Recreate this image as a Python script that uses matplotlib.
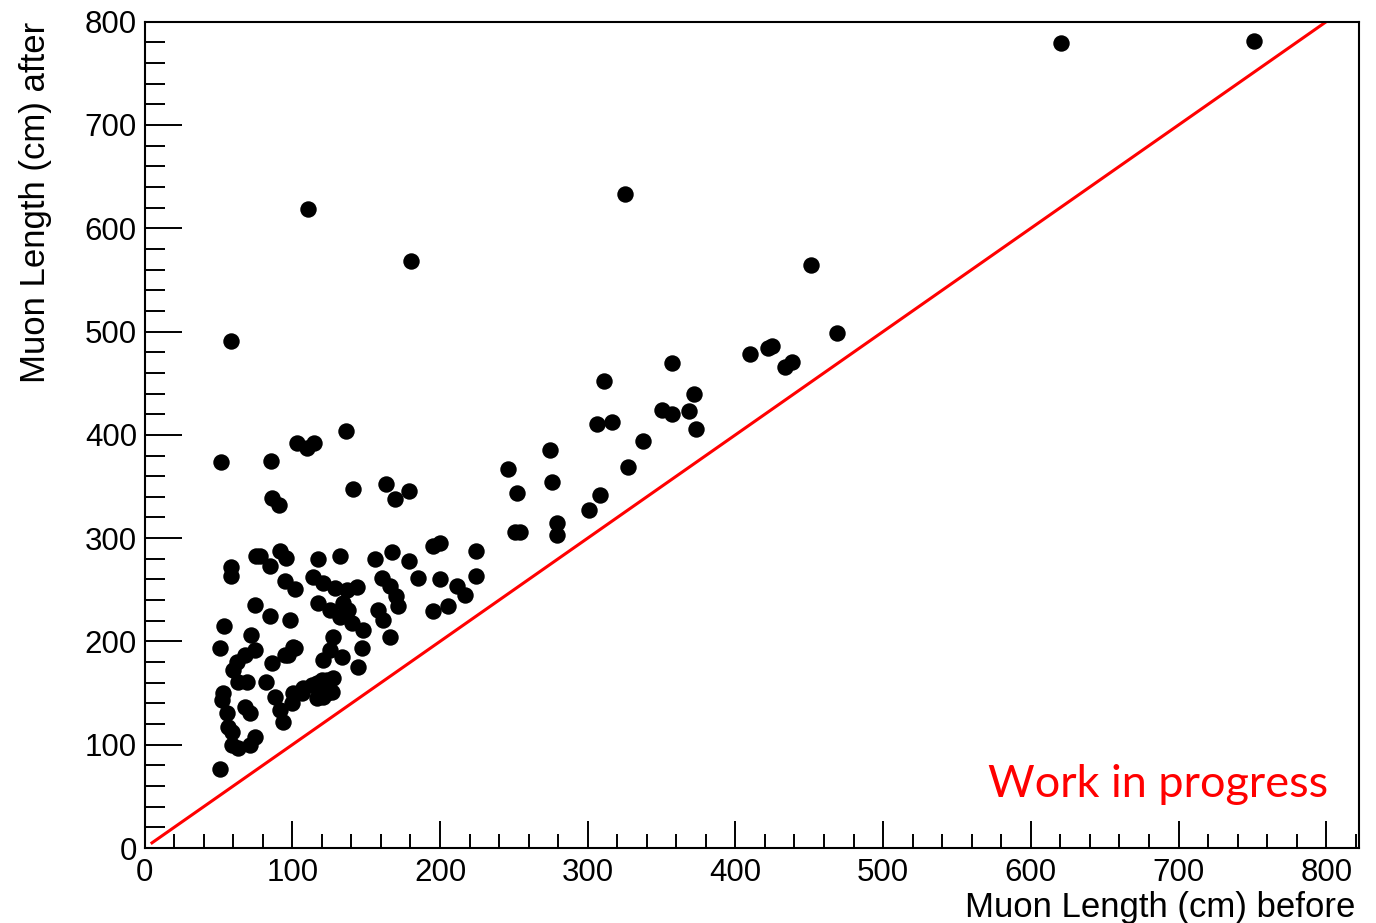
import matplotlib
matplotlib.use("Agg")
import matplotlib.pyplot as plt
from matplotlib.ticker import MultipleLocator

# muon length before / after (cm)
before = [
    # sparse upper part
    620.5, 751.4, 325.2, 110.4, 180.2, 451.2, 58.3, 468.8, 409.9, 422.0,
    424.7, 433.6, 438.4, 357.0, 311.0, 372.0, 368.8, 373.3, 350.3, 357.0,
    337.4, 316.4, 306.2, 327.2, 274.4, 275.7, 246.0, 252.0, 250.7, 254.5,
    279.0, 279.0, 300.8, 308.3, 224.3,
    # middle
    136.6, 103.0, 110.0, 115.0, 85.8, 52.0, 141.0, 163.3, 169.4, 179.0,
    86.0, 90.8, 195.0, 200.0, 224.7, 91.5, 96.0, 78.0, 84.7, 117.4,
    132.0, 155.8, 167.8, 179.0, 185.2, 75.7, 58.3, 58.3,
    94.9, 101.6, 114.2, 121.0, 128.9, 136.8, 143.6,
    160.4, 166.0, 170.5, 171.6, 199.9, 211.2, 216.8, 195.3, 205.5,
    117.6, 125.5, 132.3, 140.2, 148.1, 134.5, 137.9,
    158.2, 161.6, 166.1, 127.8, 125.5, 121.0, 133.4, 147.0, 144.7,
    101.6, 97.0, 123.3, 116.5, 107.4, 100.7, 123.3, 116.5,
    # dense lower left
    74.5, 84.7, 98.2, 53.7, 71.8, 50.8, 74.8, 68.0, 62.3, 60.0,
    63.4, 69.0, 53.3, 52.2, 68.0, 71.4, 55.6, 56.7, 59.0,
    74.8, 71.4, 63.4, 59.0, 50.8,
    86.0, 95.0, 100.7, 82.4, 88.0, 91.7, 93.9,
    99.6, 106.4, 113.1, 119.9, 127.8, 126.7, 121.0,
]
after = [
    779.0, 781.0, 633.0, 619.0, 568.0, 564.5, 491.0, 498.5, 478.0, 484.0,
    486.0, 465.5, 470.5, 469.5, 452.0, 439.5, 423.0, 405.5, 424.0, 420.0,
    394.0, 412.3, 410.3, 368.6, 385.0, 354.0, 366.7, 343.4, 305.6, 305.6,
    315.0, 302.6, 327.0, 341.4, 288.0,
    404.0, 392.0, 387.0, 392.0, 374.7, 373.4, 347.3, 352.0, 337.6, 345.6,
    338.5, 331.7, 292.0, 295.0, 263.8, 287.4, 281.0, 282.5, 272.8, 279.4,
    282.5, 280.0, 286.5, 277.7, 261.6, 282.6, 272.4, 263.6,
    258.3, 250.3, 262.6, 256.2, 251.4, 249.8, 253.0,
    261.6, 253.4, 243.7, 234.0, 260.0, 253.4, 245.4, 229.2, 234.0,
    236.9, 230.4, 223.9, 217.5, 211.0, 236.9, 230.4,
    230.4, 220.7, 204.5, 204.5, 191.7, 181.9, 185.2, 193.3, 175.5,
    193.3, 186.8, 162.6, 159.4, 154.6, 149.8, 149.8, 144.9,
    235.7, 225.0, 220.8, 215.3, 206.6, 193.6, 191.7, 186.9, 180.4, 172.4,
    161.0, 161.0, 149.8, 143.3, 136.8, 130.4, 130.4, 117.4, 112.6,
    107.7, 99.7, 96.5, 99.7, 76.4,
    178.8, 186.8, 194.9, 161.0, 146.5, 133.6, 122.3,
    140.1, 149.8, 157.8, 162.6, 164.3, 151.3, 146.5,
]

# y = x reference line
line_x = [5, 800]
line_y = [5, 800]

W, H = 1376, 923
fig = plt.figure(figsize=(W / 100, H / 100), dpi=100)
ax = fig.add_axes([144.6 / W, 1 - 848 / H, (1359 - 144.6) / W, (848 - 21.7) / H])

ax.scatter(before, after, s=140, color="black", linewidths=0, zorder=3)
ax.plot(line_x, line_y, color="red", lw=2.2, zorder=2)

ax.set_xlim(0, 822.2)
ax.set_ylim(0, 800)

ax.xaxis.set_major_locator(MultipleLocator(100))
ax.xaxis.set_minor_locator(MultipleLocator(20))
ax.yaxis.set_major_locator(MultipleLocator(100))
ax.yaxis.set_minor_locator(MultipleLocator(20))

for s in ax.spines.values():
    s.set_linewidth(1.5)

ax.tick_params(axis="both", which="both", direction="in", width=1.4,
               top=False, right=False, labelsize=22.5)
ax.tick_params(axis="y", which="major", length=26.5, pad=5.5)
ax.tick_params(axis="y", which="minor", length=14.5)
ax.tick_params(axis="x", which="major", length=19.5, pad=7)
ax.tick_params(axis="x", which="minor", length=10)

for lab in ax.get_xticklabels() + ax.get_yticklabels():
    lab.set_family("Liberation Sans")

fig.text(1355 / W, 1 - 917 / H, "Muon Length (cm) before", ha="right",
         va="baseline", fontsize=25, family="Liberation Sans")
fig.text(36 / W, 1 - 22 / H, "Muon Length (cm) after", ha="center",
         va="top", rotation=90, fontsize=25, family="Liberation Sans")
fig.text(988 / W, 1 - 797 / H, "Work in progress", ha="left",
         va="baseline", fontsize=32.5, color="red", family="Lato")

fig.savefig("out.png", dpi=100)
